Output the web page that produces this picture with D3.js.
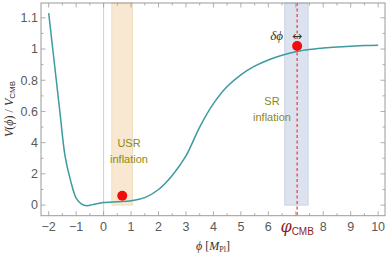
<!DOCTYPE html>
<html><head><meta charset="utf-8">
<script src="https://cdn.jsdelivr.net/npm/d3@7"></script>
<style>body{margin:0;background:#fff}svg{display:block}</style>
</head><body>
<svg id="c" width="390" height="256"></svg>
<script>
const phi = [-2.0,-1.8,-1.6,-1.4,-1.2,-1.0,-0.8,-0.6,-0.4,-0.2,0.0,0.5,1.0,1.5,2.0,2.5,3.0,3.5,4.0,4.5,5.0,5.5,6.0,6.5,7.0,7.5,8.0,8.5,9.0,9.5,10.0];
const V   = [1.23,0.92,0.61,0.31,0.155,0.045,0.006,-0.004,0.003,0.01,0.016,0.022,0.028,0.048,0.10,0.19,0.315,0.50,0.65,0.76,0.835,0.89,0.93,0.96,0.983,0.997,1.006,1.013,1.018,1.022,1.025];
const xTicks = [-2,-1,0,1,2,3,4,5,6,8,9,10];
const xMinor = d3.range(-2,10.01,0.5);
const yTicks = [0,0.2,0.4,0.6,0.8,1.0,1.2];
const yTickLabels = ["0","2","4","0.6","0.8","1","1.1"];
const yMinor = d3.range(0,1.21,0.1);
const usrBand = [0.3,1.05];
const srBand = [6.6,7.45];
const phiCMB = 7.05;
const dots = [{p:0.68,v:0.06},{p:7.05,v:1.02}];

const svg = d3.select("#c");
const L=41,R=385,T=3,B=215.7;
const x = d3.scaleLinear().domain([-2.28,10.25]).range([L,R]);
const y = d3.scaleLinear().domain([-0.068,1.295]).range([B,T]);

// bands
svg.append("rect").attr("x",x(usrBand[0])).attr("width",x(usrBand[1])-x(usrBand[0]))
  .attr("y",T).attr("height",y(0)-T).attr("fill","#f8e8d2").attr("stroke","#f1dcbc").attr("stroke-width",1);
svg.append("rect").attr("x",x(srBand[0])).attr("width",x(srBand[1])-x(srBand[0]))
  .attr("y",T).attr("height",y(0)-T).attr("fill","#dde3ee").attr("stroke","#c8d2e4").attr("stroke-width",1);

// x=0 line
svg.append("line").attr("x1",x(0)).attr("x2",x(0)).attr("y1",T).attr("y2",B).attr("stroke","#cfcfcf").attr("stroke-width",1);

// curve
const data = phi.map((p,i)=>[p,V[i]]);
svg.append("path").datum(data).attr("fill","none").attr("stroke","#3d9a9e").attr("stroke-width",1.5)
  .attr("d",d3.line().x(d=>x(d[0])).y(d=>y(d[1])).curve(d3.curveCatmullRom.alpha(0.5)));

// dashed line
svg.append("line").attr("x1",x(phiCMB)).attr("x2",x(phiCMB)).attr("y1",T).attr("y2",B)
  .attr("stroke","#e8524f").attr("stroke-width",1.4).attr("stroke-dasharray","3,2.5");

// dots
svg.selectAll("circle.d").data(dots).enter().append("circle")
  .attr("cx",d=>x(d.p)).attr("cy",d=>y(d.v)).attr("r",5).attr("fill","#f20d0d");

// frame
const fc="#9a9a9a";
svg.append("rect").attr("x",L).attr("y",T).attr("width",R-L).attr("height",B-T).attr("fill","none").attr("stroke",fc).attr("stroke-width",1);
const g = svg.append("g").attr("stroke",fc).attr("stroke-width",0.8);
xMinor.forEach(v=>{
  const major = Math.abs(v-Math.round(v))<1e-6;
  const len = major?4.5:2.5;
  g.append("line").attr("x1",x(v)).attr("x2",x(v)).attr("y1",B).attr("y2",B-len);
  g.append("line").attr("x1",x(v)).attr("x2",x(v)).attr("y1",T).attr("y2",T+len);
});
yMinor.forEach((v,i)=>{
  const major = i%2===0;
  const len = major?4.5:2.5;
  g.append("line").attr("x1",L).attr("x2",L+len).attr("y1",y(v)).attr("y2",y(v));
  g.append("line").attr("x1",R).attr("x2",R-len).attr("y1",y(v)).attr("y2",y(v));
});

// tick labels
const tf = "Liberation Sans, Arial, sans-serif";
svg.selectAll("text.xt").data(xTicks).enter().append("text")
  .attr("x",d=>x(d)).attr("y",231).attr("text-anchor","middle")
  .attr("font-family",tf).attr("font-size",12.5).attr("fill","#5a5a5a")
  .text(d=>d<0?"\u2212"+Math.abs(d):d);
svg.selectAll("text.yt").data(yTicks).enter().append("text")
  .attr("x",38).attr("y",d=>y(d)+4.3).attr("text-anchor","end")
  .attr("font-family",tf).attr("font-size",12.5).attr("fill","#5a5a5a")
  .text((d,i)=>yTickLabels[i]);

// phi_CMB label
const cm = svg.append("text").attr("x",x(phiCMB)).attr("y",232).attr("text-anchor","middle").attr("fill","#8f1c1c");
cm.append("tspan").attr("font-family","DejaVu Serif, serif").attr("font-style","italic").attr("font-size",16).text("\u03c6");
cm.append("tspan").attr("font-family",tf).attr("font-size",10).attr("dy",3).text("CMB");

// axis labels
const xl = svg.append("text").attr("x",213).attr("y",250).attr("text-anchor","middle").attr("fill","#333");
xl.append("tspan").attr("font-family","Liberation Serif, serif").attr("font-style","italic").attr("font-size",12).text("\u03d5 ");
xl.append("tspan").attr("font-family","Liberation Serif, serif").attr("font-size",12).text("[");
xl.append("tspan").attr("font-family","Liberation Serif, serif").attr("font-style","italic").attr("font-size",12).text("M");
xl.append("tspan").attr("font-family","Liberation Serif, serif").attr("font-size",8).attr("dy",2).text("Pl");
xl.append("tspan").attr("font-family","Liberation Serif, serif").attr("font-size",12).attr("dy",-2).text("]");

const yl = svg.append("text").attr("transform","translate(13,109) rotate(-90)").attr("text-anchor","middle").attr("fill","#333")
  .attr("font-family","Liberation Serif, serif").attr("font-size",12);
yl.append("tspan").attr("font-style","italic").text("V");
yl.append("tspan").text("(");
yl.append("tspan").attr("font-style","italic").text("\u03d5");
yl.append("tspan").text(") / ");
yl.append("tspan").attr("font-style","italic").text("V");
yl.append("tspan").attr("font-size",8).attr("dy",2).attr("font-family",tf).text("CMB");

// region labels
const ol="#8a8a14";
[["USR",129,147],["inflation",129,163],["SR",272,105],["inflation",272,121]].forEach(t=>{
  svg.append("text").attr("x",t[1]).attr("y",t[2]).attr("text-anchor","middle").attr("fill",ol)
    .attr("font-family",tf).attr("font-size",11).text(t[0]);
});

// delta phi
svg.append("text").attr("x",283).attr("y",40).attr("text-anchor","end").attr("fill","#333")
  .attr("font-family","Liberation Serif, serif").attr("font-style","italic").attr("font-size",13).text("\u03b4\u03d5");
svg.append("text").attr("x",x(phiCMB)).attr("y",40).attr("text-anchor","middle").attr("fill","#333")
  .attr("font-family","DejaVu Sans, sans-serif").attr("font-size",12).text("\u2194");
</script>
</body></html>
